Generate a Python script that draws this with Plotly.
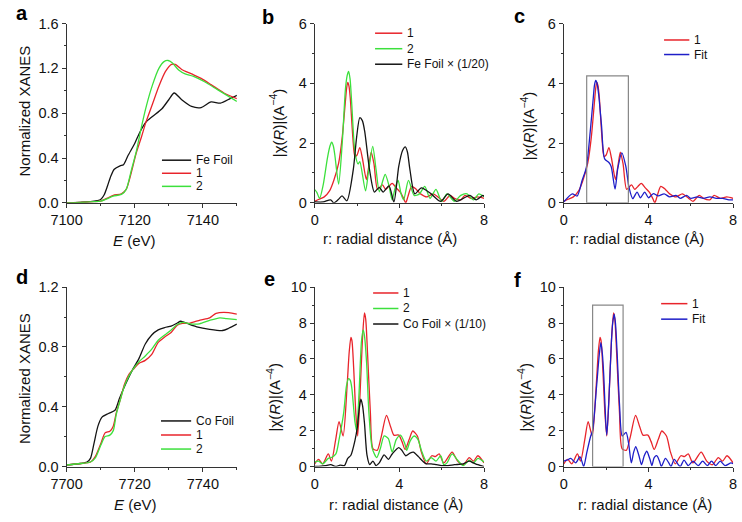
import plotly.graph_objects as go

# ---- panel a: Fe K-edge XANES ----
fe_foil_E = [7100, 7104, 7107, 7109, 7110, 7111, 7112, 7113, 7114, 7115.7, 7116.7, 7118, 7120, 7121.5,
             7123.3, 7125.2, 7128, 7130, 7131.6, 7133.8, 7136.7, 7139.5, 7142.4, 7145.2, 7148, 7150]
fe_foil_mu = [0.0, 0.005, 0.01, 0.02, 0.03, 0.07, 0.15, 0.24, 0.3, 0.33, 0.34, 0.42, 0.53, 0.63,
              0.72, 0.77, 0.84, 0.92, 0.98, 0.92, 0.86, 0.85, 0.9, 0.89, 0.93, 0.96]
fe1_E = [7100, 7104, 7108, 7110, 7111.8, 7113.7, 7116.1, 7117.5, 7119, 7120.4, 7122, 7123.3, 7125.2,
         7127.1, 7129, 7130.8, 7131.9, 7133.8, 7136.7, 7139.5, 7142.4, 7146.2, 7150]
fe1_mu = [0.0, 0.003, 0.01, 0.015, 0.04, 0.067, 0.08, 0.12, 0.27, 0.44, 0.59, 0.72, 0.88,
          1.04, 1.17, 1.235, 1.235, 1.19, 1.15, 1.11, 1.055, 0.98, 0.93]
fe2_E = [7100, 7104, 7108, 7110, 7111.8, 7113.7, 7116.1, 7117.5, 7119, 7120.4, 7122, 7123.3, 7125.2,
         7127.1, 7128.6, 7129.8, 7131, 7132.9, 7134.8, 7137.1, 7140.5, 7144.3, 7150]
fe2_mu = [0.0, 0.003, 0.01, 0.015, 0.035, 0.06, 0.075, 0.12, 0.29, 0.45, 0.68, 0.85, 1.05,
          1.2, 1.26, 1.27, 1.25, 1.185, 1.15, 1.13, 1.08, 1.01, 0.905]

# ---- panel b / c: Fe FT-EXAFS ----
fe1_r = [0, 0.2, 0.45, 0.7, 0.9, 1.13, 1.3, 1.45, 1.51, 1.56, 1.62, 1.68, 1.8, 1.9, 2.0, 2.13, 2.25,
         2.44, 2.55, 2.67, 2.8, 2.97, 3.2, 3.35, 3.5, 3.66, 3.85, 4.05, 4.2, 4.3, 4.4, 4.58, 4.8, 5.0,
         5.3, 5.6, 5.9, 6.1, 6.4, 6.6, 6.9, 7.1, 7.4, 7.7, 8.0]
fe1_chi = [0.05, 0.12, 0.2, 0.4, 0.75, 1.33, 2.2, 3.4, 3.85, 4.03, 3.9, 3.5, 2.2, 1.55, 1.6, 1.85, 1.5,
           0.78, 1.2, 1.7, 1.3, 0.45, 0.6, 0.45, 0.55, 0.65, 0.5, 0.35, 0.15, 0.0, 0.2, 0.55, 0.45, 0.3,
           0.2, 0.3, 0.15, 0.05, 0.25, 0.15, 0.1, 0.25, 0.15, 0.2, 0.15]
fe2_r = [0, 0.1, 0.23, 0.4, 0.6, 0.72, 0.8, 0.88, 0.95, 1.13, 1.3, 1.45, 1.53, 1.6, 1.67, 1.75, 1.9,
         2.05, 2.13, 2.4, 2.55, 2.74, 2.9, 3.05, 3.2, 3.33, 3.5, 3.66, 3.8, 3.94, 4.08, 4.2, 4.43, 4.7,
         4.95, 5.2, 5.45, 5.73, 6.0, 6.25, 6.6, 6.9, 7.2, 7.5, 7.75, 8.0]
fe2_chi = [0.44, 0.35, 0.15, 0.6, 1.5, 1.9, 2.03, 1.9, 1.6, 0.63, 2.0, 3.8, 4.25, 4.4, 4.15, 3.3, 1.7,
           1.3, 1.38, 0.4, 1.1, 1.89, 1.1, 0.37, 0.7, 0.95, 0.6, 0.1, 0.5, 0.75, 0.3, 0.1, 0.75, 0.25,
           0.3, 0.55, 0.15, 0.45, 0.05, 0.3, 0.05, 0.25, 0.3, 0.1, 0.3, 0.2]
fefoil_r = [0, 0.4, 0.75, 0.9, 1.1, 1.29, 1.52, 1.82, 1.98, 2.13, 2.25, 2.36, 2.59, 2.82, 3.05, 3.23,
            3.51, 3.74, 3.97, 4.15, 4.28, 4.38, 4.5, 4.73, 5.04, 5.5, 5.95, 6.3, 6.7, 7.33, 7.63,
            7.94, 8.0]
fefoil_chi = [0.03, 0.03, 0.1, 0.0, 0.1, 0.23, 0.07, 1.1, 2.2, 2.85, 2.75, 2.4, 1.11, 0.36, 0.52, 0.36,
              0.57, 0.03, 1.22, 1.75, 1.87, 1.7, 1.1, 0.3, 0.5, 0.3, 0.05, 0.3, 0.05, 0.25, 0.1,
              0.25, 0.22]
fe_fit_r = [0, 0.4, 0.63, 0.86, 1.06, 1.25, 1.39, 1.45, 1.51, 1.57, 1.65, 1.78, 1.93, 2.13, 2.24, 2.42,
            2.55, 2.74, 2.93, 3.08, 3.26, 3.46, 3.62, 3.82, 4.0, 4.23, 4.46, 4.74, 5.0, 5.3, 5.5, 5.8,
            6.0, 6.3, 6.6, 6.9, 7.2, 7.5, 7.8, 8.0]
fe_fit_chi = [0.03, 0.3, 0.23, 0.74, 1.17, 2.4, 3.5, 3.95, 4.1, 4.0, 3.6, 2.6, 1.47, 1.35, 1.21, 0.46,
              1.15, 1.67, 1.22, 0.52, 0.14, 0.36, 0.17, 0.36, 0.17, 0.31, 0.23, 0.3, 0.2, 0.25, 0.15,
              0.25, 0.15, 0.2, 0.15, 0.2, 0.15, 0.15, 0.1, 0.1]
fe_fit_window = [1.08, 3.05]
fe_window_top = 4.25

# ---- panel d: Co K-edge XANES ----
co_foil_E = [7700, 7704.2, 7706, 7707, 7708, 7709.2, 7710.4, 7712.3, 7714.2, 7715.6, 7717.5, 7719.3,
             7721.2, 7723.1, 7725, 7726.9, 7728.8, 7730.7, 7732.5, 7733.5, 7735.4, 7738.2, 7742,
             7745.8, 7747.6, 7750]
co_foil_mu = [0.01, 0.02, 0.03, 0.054, 0.15, 0.27, 0.33, 0.355, 0.376, 0.46, 0.56, 0.645,
              0.72, 0.82, 0.88, 0.914, 0.93, 0.94, 0.96, 0.972, 0.957, 0.935, 0.918,
              0.91, 0.925, 0.953]
co1_E = [7700, 7704, 7707, 7708.5, 7710, 7711.3, 7712.7, 7713.7, 7714.6, 7715.8, 7717, 7718.4, 7719.8,
         7721.2, 7723.1, 7725, 7726.9, 7728.8, 7730.7, 7732.5, 7734, 7736.3, 7739.2, 7742, 7743.9,
         7747.6, 7750]
co1_mu = [0.01, 0.02, 0.03, 0.07, 0.15, 0.225, 0.236, 0.27, 0.36, 0.45, 0.55, 0.62, 0.656,
          0.69, 0.71, 0.75, 0.83, 0.867, 0.897, 0.946, 0.957, 0.96, 0.98, 0.995, 1.025,
          1.03, 1.02]
co2_E = [7700, 7704, 7707, 7708.5, 7710, 7711.3, 7712.7, 7713.7, 7714.6, 7715.8, 7717, 7718.4, 7719.8,
         7721.2, 7723.1, 7725, 7726.9, 7728.8, 7730.7, 7732.5, 7734, 7736.3, 7739, 7742, 7745,
         7747, 7750]
co2_mu = [0.01, 0.02, 0.03, 0.06, 0.14, 0.2, 0.21, 0.24, 0.35, 0.45, 0.54, 0.61, 0.66,
          0.7, 0.74, 0.785, 0.845, 0.88, 0.914, 0.95, 0.965, 0.955, 0.955, 0.978, 0.995,
          0.99, 0.983]

# ---- panel e / f: Co FT-EXAFS ----
co1_r = [0, 0.18, 0.38, 0.64, 0.79, 0.99, 1.15, 1.34, 1.53, 1.63, 1.71, 1.76, 1.84, 1.94, 2.03, 2.14,
         2.25, 2.35, 2.41, 2.5, 2.63, 2.75, 2.95, 3.13, 3.39, 3.59, 3.74, 3.97, 4.12, 4.27, 4.46, 4.63,
         4.85, 5.04, 5.27, 5.53, 5.7, 5.88, 6.1, 6.49, 6.75, 7.02, 7.3, 7.5, 7.71, 8.0]
co1_chi = [0.15, 0.4, 0.15, 0.7, 0.3, 1.5, 2.5, 1.7, 4.5, 6.4, 7.2, 7.0, 5.5, 3.0, 1.7, 4.0,
           7.0, 8.56, 8.2, 6.2, 3.0, 1.0, 0.9, 1.6, 2.85, 2.2, 1.75, 1.75, 1.4, 0.95, 1.5, 1.98,
           1.7, 0.8, 0.15, 0.6, 0.55, 0.7, 0.2, 0.8, 0.3, 0.1, 0.5, 0.3, 0.6, 0.2]
co2_r = [0, 0.18, 0.38, 0.64, 0.79, 1.0, 1.15, 1.37, 1.5, 1.6, 1.68, 1.75, 1.9, 1.98, 2.09, 2.21, 2.29,
         2.35, 2.45, 2.56, 2.72, 2.93, 3.1, 3.28, 3.48, 3.66, 3.85, 4.05, 4.25, 4.35, 4.5, 4.7, 4.88,
         5.04, 5.27, 5.5, 5.73, 5.95, 6.1, 6.25, 6.49, 6.72, 7.02, 7.3, 7.5, 7.71, 8.0]
co2_chi = [0.25, 0.3, 0.15, 0.45, 0.5, 0.7, 1.5, 3.0, 4.5, 4.9, 4.8, 4.4, 2.5, 2.0, 4.0, 7.0, 7.62,
           7.3, 5.8, 3.0, 1.0, 0.5, 1.0, 1.71, 1.55, 0.8, 1.5, 1.75, 1.3, 0.9, 1.4, 1.7, 1.5,
           0.9, 0.3, 0.5, 0.3, 0.6, 0.1, 0.2, 0.7, 0.4, 0.05, 0.35, 0.2, 0.45, 0.25]
cofoil_r = [0, 0.3, 0.5, 0.76, 1.0, 1.2, 1.4, 1.56, 1.71, 1.9, 2.02, 2.1, 2.18, 2.26, 2.35, 2.47, 2.6,
            2.75, 2.9, 3.05, 3.28, 3.48, 3.66, 3.97, 4.12, 4.3, 4.5, 4.66, 4.9, 5.1, 5.27, 5.5, 5.75,
            6.0, 6.3, 6.6, 7.02, 7.3, 7.5, 7.71, 8.0]
cofoil_chi = [0.0, 0.02, 0.05, 0.1, 0.0, 0.08, 0.05, 0.45, 0.63, 1.44, 2.25, 3.2, 3.75, 3.4, 2.43, 0.63,
              0.1, 0.3, 0.05, 0.2, 0.65, 0.4, 0.7, 1.05, 0.9, 0.6, 0.75, 0.8, 0.55, 0.3, 0.15, 0.15,
              0.1, 0.05, 0.05, 0.1, 0.15, 0.3, 0.2, 0.1, 0.0]
co_fit_r = [0, 0.15, 0.33, 0.56, 0.76, 0.85, 0.94, 1.09, 1.27, 1.36, 1.55, 1.68, 1.75, 1.82, 1.89,
            1.98, 2.03, 2.12, 2.25, 2.31, 2.38, 2.44, 2.52, 2.63, 2.76, 2.94, 3.06, 3.19, 3.3, 3.4,
            3.55, 3.67, 3.8, 3.92, 4.07, 4.16, 4.27, 4.39, 4.52, 4.61, 4.8, 4.96, 5.06, 5.22, 5.41,
            5.5, 5.68, 5.88, 6.1, 6.35, 6.56, 6.78, 6.98, 7.18, 7.39, 7.62, 7.9, 8.0]
co_fit_chi = [0.3, 0.35, 0.45, 0.2, 0.55, 0.3, 0.0, 0.8, 1.7, 2.0, 4.5, 6.3, 6.9, 6.3, 5.0,
              2.5, 1.75, 3.5, 7.0, 8.0, 8.5, 8.0, 6.3, 3.5, 1.7, 1.9, 1.3, 0.2, 0.8, 1.1,
              0.6, 0.1, 0.6, 0.85, 0.4, 0.05, 0.5, 0.6, 0.3, 0.0, 0.45, 0.2, 0.0, 0.4, 0.1,
              0.0, 0.35, 0.05, 0.3, 0.05, 0.3, 0.05, 0.3, 0.05, 0.3, 0.05, 0.2, 0.15]
co_fit_window = [1.36, 2.8]
co_window_top = 9.0

RED = "#e8242b"
GREEN = "#3ce03c"
BLACK = "#141414"
BLUE = "#1e1ec8"
FONT = "Arial, Liberation Sans, sans-serif"
W, H = 742, 522

fig = go.Figure()

# (panel, x, y, name, colour)
series = [
    (1, fe_foil_E, fe_foil_mu, "Fe Foil", BLACK),
    (1, fe1_E, fe1_mu, "1", RED),
    (1, fe2_E, fe2_mu, "2", GREEN),
    (2, fe1_r, fe1_chi, "1", RED),
    (2, fe2_r, fe2_chi, "2", GREEN),
    (2, fefoil_r, fefoil_chi, "Fe Foil × (1/20)", BLACK),
    (3, fe1_r, fe1_chi, "1", RED),
    (3, fe_fit_r, fe_fit_chi, "Fit", BLUE),
    (4, co_foil_E, co_foil_mu, "Co Foil", BLACK),
    (4, co1_E, co1_mu, "1", RED),
    (4, co2_E, co2_mu, "2", GREEN),
    (5, co1_r, co1_chi, "1", RED),
    (5, co2_r, co2_chi, "2", GREEN),
    (5, cofoil_r, cofoil_chi, "Co Foil × (1/10)", BLACK),
    (6, co1_r, co1_chi, "1", RED),
    (6, co_fit_r, co_fit_chi, "Fit", BLUE),
]
for n, x, y, name, color in series:
    sfx = "" if n == 1 else str(n)
    fig.add_trace(go.Scatter(x=x, y=y, name=name, mode="lines", showlegend=False,
                             line=dict(color=color, width=1.3, shape="spline", smoothing=0.7),
                             xaxis="x" + sfx, yaxis="y" + sfx))


def px_x(p):
    return p / W


def px_y(p):
    return 1 - p / H


def axis(dom, anchor, rng, dtick, minor, fmt=None):
    d = dict(domain=dom, anchor=anchor, range=rng, dtick=dtick, tick0=rng[0],
             showline=True, linecolor="#333", linewidth=1, ticks="outside", ticklen=4,
             tickcolor="#333", showgrid=False, zeroline=False,
             tickfont=dict(family=FONT, size=14.5, color="#111"),
             minor=dict(dtick=minor, tick0=rng[0], ticks="outside", ticklen=2, tickcolor="#333",
                        showgrid=False))
    if fmt:
        d["tickformat"] = fmt
    return d


xcols = [(52, 227), (307, 481), (563, 737)]
yrows = [(16, 201), (288, 473)]

layout = dict(width=W, height=H, margin=dict(l=0, r=0, t=0, b=0), showlegend=False,
              paper_bgcolor="white", plot_bgcolor="white",
              font=dict(family=FONT, color="#111"))

specs = [
    (1, 0, 0, [7100, 7150], 20, 10, [0, 1.6], 0.4, 0.2, ".1f"),
    (2, 1, 0, [0, 8], 4, 2, [0, 6], 2, 1, None),
    (3, 2, 0, [0, 8], 4, 2, [0, 6], 2, 1, None),
    (4, 0, 1, [7700, 7750], 20, 10, [0, 1.2], 0.4, 0.2, ".1f"),
    (5, 1, 1, [0, 8], 4, 2, [0, 10], 2, 1, None),
    (6, 2, 1, [0, 8], 4, 2, [0, 10], 2, 1, None),
]
for n, c, r, xr, xd, xm, yr, yd, ym, yf in specs:
    sfx = "" if n == 1 else str(n)
    xdom = [px_x(xcols[c][0]), px_x(xcols[c][1])]
    ydom = [px_y(yrows[r][1]), px_y(yrows[r][0])]
    layout["xaxis" + sfx] = axis(xdom, "y" + sfx, xr, xd, xm)
    layout["yaxis" + sfx] = axis(ydom, "x" + sfx, yr, yd, ym, yf)

fig.update_layout(**layout)

# fit windows
fig.add_shape(type="rect", xref="x3", yref="y3", x0=fe_fit_window[0], x1=fe_fit_window[1],
              y0=0, y1=fe_window_top, line=dict(color="#888", width=1.2))
fig.add_shape(type="rect", xref="x6", yref="y6", x0=co_fit_window[0], x1=co_fit_window[1],
              y0=0, y1=co_window_top, line=dict(color="#888", width=1.2))

# legends: panel -> (key line start px, first row centre px, row step px, key length px)
legend_boxes = {1: (150, 157, 13.5, 30), 2: (369, 26, 16, 28), 3: (666, 33, 15, 26),
                4: (149, 426, 14.5, 31), 5: (367, 294, 16, 26), 6: (663, 305, 16, 27)}
rows = {}
for n, x, y, name, color in series:
    x0, y0, step, length = legend_boxes[n]
    k = rows.get(n, 0)
    rows[n] = k + 1
    yy = px_y(y0 + k * step)
    fig.add_shape(type="line", xref="paper", yref="paper", x0=px_x(x0), x1=px_x(x0 + length),
                  y0=yy, y1=yy, line=dict(color=color, width=1.5))
    fig.add_annotation(text=name, x=px_x(x0 + length + 3), y=yy, xref="paper", yref="paper",
                       xanchor="left", yanchor="middle", showarrow=False,
                       font=dict(family=FONT, size=12, color="#111"))

chi_title = "|χ(<i>R</i>)|(A<sup>−4</sup>)"
r_title = "r: radial distance (Å)"
titles = [
    ("<i>E</i> (eV)", 122, 240, 0), ("<i>E</i> (eV)", 123, 512, 0),
    (r_title, 384, 238, 0), (r_title, 638, 238, 0),
    (r_title, 391, 512, 0), (r_title, 646, 512, 0),
    ("Normalized XANES", 9, 106, -90), ("Normalized XANES", 9, 382, -90),
    (chi_title, 268, 118, -90), (chi_title, 525, 121, -90),
    (chi_title, 265, 401, -90), (chi_title, 523, 401, -90),
]
for text, x, y, ang in titles:
    fig.add_annotation(text=text, x=px_x(x), y=px_y(y), xref="paper", yref="paper",
                       xanchor="center", yanchor="middle", showarrow=False, textangle=ang,
                       font=dict(family=FONT, size=15, color="#111"))

panel_labels = [("a", 6, 5), ("b", 259, 9), ("c", 517, 8), ("d", 6, 277), ("e", 261, 280), ("f", 515, 281)]
for text, x, y in panel_labels:
    fig.add_annotation(text="<b>" + text + "</b>", x=px_x(x), y=px_y(y), xref="paper", yref="paper",
                       xanchor="center", yanchor="middle", showarrow=False,
                       font=dict(family=FONT, size=20, color="#000"))

# the page body has a default 8px margin; drop it so the figure fills the window exactly
fig.write_html("out.html", config={"displayModeBar": False},
               post_script="document.body.style.margin='0';document.body.style.overflow='hidden';")
